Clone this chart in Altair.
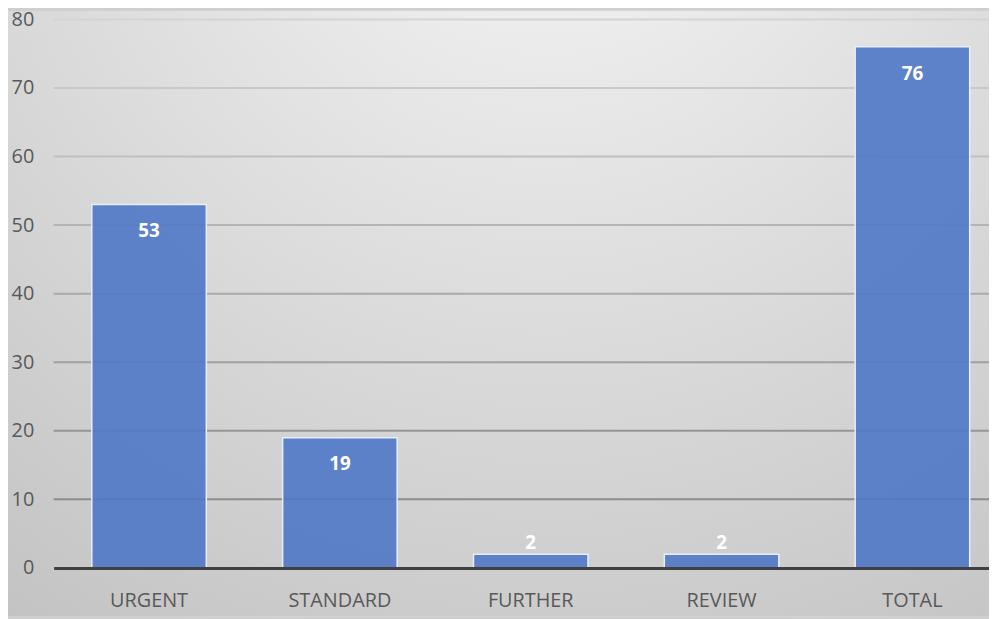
import altair as alt
import pandas as pd

categories = ["URGENT", "STANDARD", "FURTHER", "REVIEW", "TOTAL"]
values = [53, 19, 2, 2, 76]
grid_values = [10, 20, 30, 40, 50, 60, 70, 80]

df = pd.DataFrame({"cat": categories, "value": values})
grid_df = pd.DataFrame({"g": grid_values})
W, H = 943, 553
FONT = "Open Sans"

bg = alt.Chart(pd.DataFrame({"a": [0]})).mark_rect(
    fill={
        "gradient": "radial",
        "x1": 0.55, "y1": 0.0, "r1": 0.0,
        "x2": 0.55, "y2": 0.0, "r2": 1.0,
        "stops": [
            {"offset": 0.0, "color": "#f7f7f7"},
            {"offset": 1.0, "color": "#c2c2c2"},
        ],
    }
).encode(
    x=alt.value(-46), x2=alt.value(W), y=alt.value(-9), y2=alt.value(H + 49)
)

yscale = alt.Scale(domain=[0, 80], nice=False)
yaxis = alt.Axis(title=None, values=list(range(0, 81, 10)), ticks=False,
                 domain=False, grid=False, zindex=1,
                 labelFont=FONT, labelFontSize=20, labelColor="#595959",
                 labelPadding=20)

grid = alt.Chart(grid_df).mark_rule(strokeWidth=2).encode(
    y=alt.Y("g:Q", scale=yscale, axis=yaxis),
    x=alt.value(0), x2=alt.value(W),
    color=alt.Color("g:Q", scale=alt.Scale(domain=[0, 80], range=["#828282", "#d4d4d4"]),
                    legend=None),
)

base = alt.Chart(df).encode(
    x=alt.X("cat:N", sort=categories,
            scale=alt.Scale(paddingInner=0.4, paddingOuter=0.2, range=[0, 962]),
            axis=alt.Axis(title=None, labelAngle=0, ticks=False, grid=False,
                          domainColor="#404040", domainWidth=3, zindex=1,
                          labelFont=FONT, labelFontSize=20, labelColor="#595959",
                          labelPadding=23)),
    y=alt.Y("value:Q", scale=yscale, axis=yaxis),
)

bars = base.mark_bar(fill="#4f78c6", fillOpacity=0.9, stroke="#e8eef8", strokeWidth=1.5)

inside = base.transform_filter("datum.value > 5").mark_text(
    color="white", fontWeight="bold", font=FONT, fontSize=19, baseline="middle", dy=27
).encode(text="value:Q")

above = base.transform_filter("datum.value <= 5").mark_text(
    color="white", fontWeight="bold", font=FONT, fontSize=19, baseline="middle", dy=-11
).encode(text="value:Q")

chart = alt.layer(bg, grid, bars, inside, above).resolve_scale(color="independent").properties(
    width=W, height=H,
    autosize=alt.AutoSizeParams(type="none"),
    padding={"left": 46, "top": 9, "right": 0, "bottom": 49},
).configure_view(stroke=None).configure(background="#cfcfcf")

chart.save("out.html", embed_options={"renderer": "svg", "actions": False})
